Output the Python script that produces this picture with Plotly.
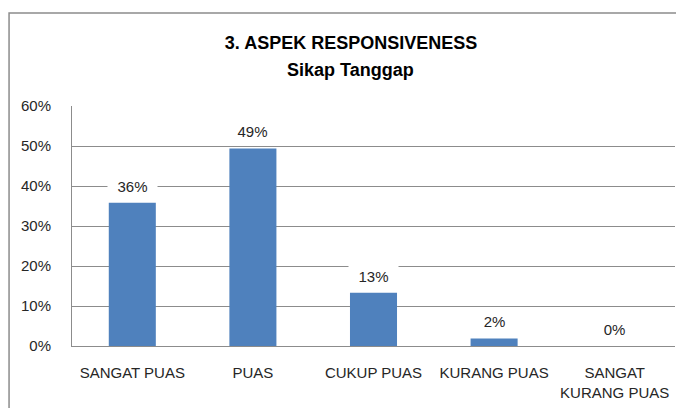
import plotly.graph_objects as go

categories = ["SANGAT PUAS", "PUAS", "CUKUP PUAS", "KURANG PUAS", "SANGAT KURANG PUAS"]
tick_labels = ["SANGAT PUAS", "PUAS", "CUKUP PUAS", "KURANG PUAS", "SANGAT<br>KURANG PUAS"]
values = [0.358, 0.494, 0.133, 0.019, 0.0]
y_ticks = [0.0, 0.1, 0.2, 0.3, 0.4, 0.5, 0.6]
y_tick_labels = ["0%", "10%", "20%", "30%", "40%", "50%", "60%"]
title_line1 = "3. ASPEK RESPONSIVENESS"
title_line2 = "Sikap Tanggap"

FONT = "Liberation Sans, Arial, sans-serif"
GRID = "#8c8c8c"
TXT = "#262626"

# the page body has an 8px margin, so the figure is 8px smaller
W, H = 676, 400
L, R, T, B = 64, 8.5, 98, 62
PW, PH = W - L - R, H - T - B
TITLE_X = 343  # horizontal centre of the title, in figure pixels

fig = go.Figure()
fig.add_trace(go.Bar(
    x=categories, y=values,
    marker=dict(color="#4F81BD", line=dict(width=0)),
    hoverinfo="skip",
))

# data labels with a white box that interrupts the gridlines
labels = [f"{round(v * 100)}%" for v in values]
for c, v, t in zip(categories, values, labels):
    fig.add_annotation(
        x=c, y=v, xref="x", yref="y",
        text=t, showarrow=False,
        yanchor="middle", yshift=17,
        bgcolor="white", width=10 * len(t) + 17, height=18,
        font=dict(family=FONT, size=15, color=TXT),
    )

# second title line
fig.add_annotation(
    x=(TITLE_X - L) / PW, xref="paper",
    y=(H - B - 62) / PH, yref="paper",
    text=f"<b>{title_line2}</b>", showarrow=False,
    xanchor="center", yanchor="middle",
    font=dict(family=FONT, size=18, color="#000000"),
)

fig.update_layout(
    width=W, height=H,
    margin=dict(l=L, r=R, t=T, b=B, autoexpand=False),
    paper_bgcolor="white", plot_bgcolor="white",
    bargap=0.61,
    showlegend=False,
    title=dict(
        text=f"<b>{title_line1}</b>",
        x=TITLE_X / W, xref="container", xanchor="center",
        y=1 - 35 / H, yref="container", yanchor="middle",
        font=dict(family=FONT, size=18, color="#000000"),
    ),
    xaxis=dict(
        tickvals=categories, ticktext=tick_labels,
        showline=True, linecolor=GRID, linewidth=1,
        showgrid=False, ticks="", ticklabelstandoff=13,
        tickfont=dict(family=FONT, size=15, color=TXT),
        fixedrange=True,
    ),
    yaxis=dict(
        range=[0, 0.6], tickvals=y_ticks, ticktext=y_tick_labels,
        showgrid=True, gridcolor=GRID, gridwidth=1,
        showline=True, linecolor=GRID, linewidth=1,
        zeroline=False, ticks="", ticklabelstandoff=17,
        tickfont=dict(family=FONT, size=15, color=TXT),
        fixedrange=True,
    ),
    shapes=[dict(
        type="rect", xref="paper", yref="paper",
        x0=(1 - L) / PW, x1=1.2, y0=-0.4, y1=(H - B - 5) / PH,
        line=dict(color="#8c8c8c", width=1.5), fillcolor="rgba(0,0,0,0)",
        layer="below",
    )],
)

fig.write_html("out.html")
